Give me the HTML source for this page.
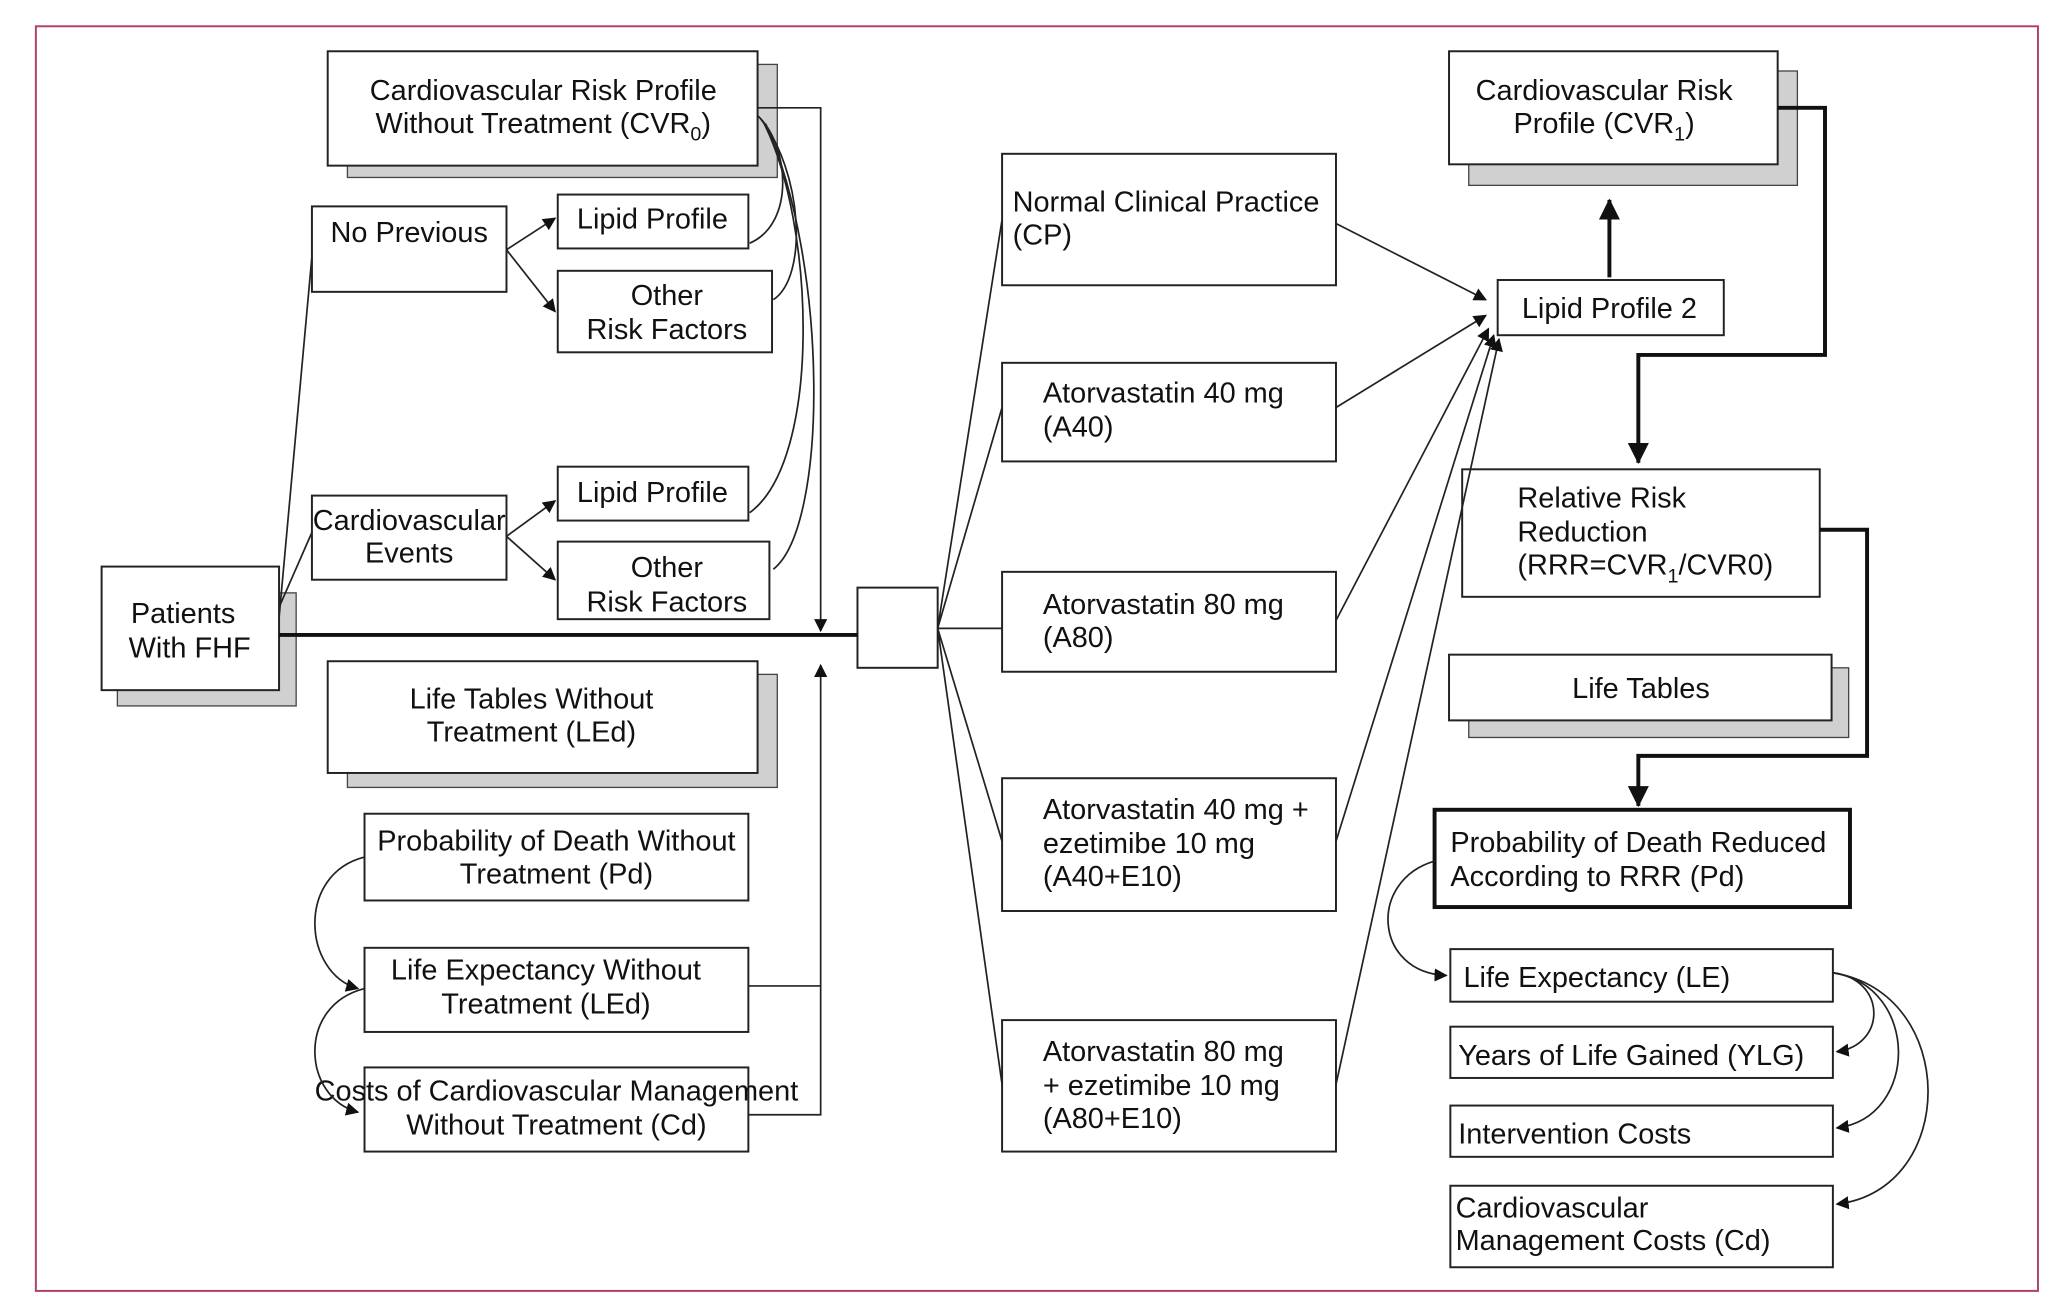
<!DOCTYPE html>
<html><head><meta charset="utf-8"><style>
html,body{margin:0;padding:0;background:#fff}
svg{display:block}
text{font-family:"Liberation Sans Narrow","Liberation Sans",sans-serif;font-size:22px;fill:#111}
.b{fill:#fff;stroke:#222;stroke-width:1.5}
.s{fill:#d0d0d0;stroke:#444;stroke-width:1}
.l{stroke:#222;stroke-width:1.3;fill:none}
.t{stroke:#111;stroke-width:3;fill:none}
</style></head><body>
<svg width="2062" height="1308" viewBox="0 0 1568 995" xmlns="http://www.w3.org/2000/svg">
<defs>
<marker id="a" markerWidth="10" markerHeight="10" refX="9" refY="5" orient="auto" markerUnits="userSpaceOnUse"><path d="M0,0 L10,5 L0,10 z" fill="#111"/></marker>
<marker id="A" markerWidth="16" markerHeight="16" refX="15" refY="8" orient="auto" markerUnits="userSpaceOnUse"><path d="M0,0 L16,8 L0,16 z" fill="#111"/></marker>
</defs>
<rect x="27" y="20" width="1523" height="962" fill="none" stroke="#b0406a" stroke-width="1.5"/>

<rect class="s" x="264" y="49" width="327" height="86"/>
<rect class="s" x="89" y="451" width="136" height="86"/>
<rect class="s" x="264" y="513" width="327" height="86"/>
<rect class="s" x="1117" y="54" width="250" height="87"/>
<rect class="s" x="1117" y="508" width="289" height="53"/>

<rect class="b" x="249" y="39" width="327" height="87"/>
<text x="413" y="76" text-anchor="middle">Cardiovascular Risk Profile</text>
<text x="413" y="101" text-anchor="middle">Without Treatment (CVR<tspan font-size="15" dy="6">0</tspan><tspan dy="-6">)</tspan></text>
<rect class="b" x="237" y="157" width="148" height="65"/><text x="311" y="184" text-anchor="middle">No Previous</text>
<rect class="b" x="424" y="148" width="145" height="41"/><text x="496" y="174" text-anchor="middle">Lipid Profile</text>
<rect class="b" x="424" y="206" width="163" height="62"/><text x="507" y="232" text-anchor="middle">Other</text><text x="507" y="258" text-anchor="middle">Risk Factors</text>
<rect class="b" x="237" y="377" width="148" height="64"/><text x="311" y="403" text-anchor="middle">Cardiovascular</text><text x="311" y="428" text-anchor="middle">Events</text>
<rect class="b" x="424" y="355" width="145" height="41"/><text x="496" y="382" text-anchor="middle">Lipid Profile</text>
<rect class="b" x="424" y="412" width="161" height="59"/><text x="507" y="439" text-anchor="middle">Other</text><text x="507" y="465" text-anchor="middle">Risk Factors</text>
<rect class="b" x="77" y="431" width="135" height="94"/><text x="139" y="474" text-anchor="middle">Patients</text><text x="144" y="500" text-anchor="middle">With FHF</text>
<rect class="b" x="249" y="503" width="327" height="85"/><text x="404" y="539" text-anchor="middle">Life Tables Without</text><text x="404" y="564" text-anchor="middle">Treatment (LEd)</text>
<rect class="b" x="277" y="619" width="292" height="66"/><text x="423" y="647" text-anchor="middle">Probability of Death Without</text><text x="423" y="672" text-anchor="middle">Treatment (Pd)</text>
<rect class="b" x="277" y="721" width="292" height="64"/><text x="415" y="745" text-anchor="middle">Life Expectancy Without</text><text x="415" y="771" text-anchor="middle">Treatment (LEd)</text>
<rect class="b" x="277" y="812" width="292" height="64"/><text x="423" y="837" text-anchor="middle">Costs of Cardiovascular Management</text><text x="423" y="863" text-anchor="middle">Without Treatment (Cd)</text>
<rect class="b" x="652" y="447" width="61" height="61"/>
<rect class="b" x="762" y="117" width="254" height="100"/><text x="770" y="161">Normal Clinical Practice</text><text x="770" y="186">(CP)</text>
<rect class="b" x="762" y="276" width="254" height="75"/><text x="793" y="306">Atorvastatin 40 mg</text><text x="793" y="332">(A40)</text>
<rect class="b" x="762" y="435" width="254" height="76"/><text x="793" y="467">Atorvastatin 80 mg</text><text x="793" y="492">(A80)</text>
<rect class="b" x="762" y="592" width="254" height="101"/><text x="793" y="623">Atorvastatin 40 mg +</text><text x="793" y="649">ezetimibe 10 mg</text><text x="793" y="674">(A40+E10)</text>
<rect class="b" x="762" y="776" width="254" height="100"/><text x="793" y="807">Atorvastatin 80 mg</text><text x="793" y="833"> +  ezetimibe 10 mg</text><text x="793" y="858">(A80+E10)</text>
<rect class="b" x="1102" y="39" width="250" height="86"/><text x="1220" y="76" text-anchor="middle">Cardiovascular Risk</text><text x="1220" y="101" text-anchor="middle">Profile (CVR<tspan font-size="15" dy="6">1</tspan><tspan dy="-6">)</tspan></text>
<rect class="b" x="1139" y="213" width="172" height="42"/><text x="1224" y="242" text-anchor="middle">Lipid Profile 2</text>
<rect class="b" x="1112" y="357" width="272" height="97"/><text x="1154" y="386">Relative Risk</text><text x="1154" y="412">Reduction</text><text x="1154" y="437">(RRR=CVR<tspan font-size="15" dy="6">1</tspan><tspan dy="-6">/CVR0)</tspan></text>
<rect class="b" x="1102" y="498" width="291" height="50"/><text x="1248" y="531" text-anchor="middle">Life Tables</text>
<rect x="1091" y="616" width="316" height="74" fill="#fff" stroke="#111" stroke-width="3"/><text x="1103" y="648">Probability of Death Reduced</text><text x="1103" y="674">According to RRR (Pd)</text>
<rect class="b" x="1103" y="722" width="291" height="40"/><text x="1113" y="751">Life Expectancy (LE)</text>
<rect class="b" x="1103" y="781" width="291" height="39"/><text x="1109" y="810">Years of Life Gained (YLG)</text>
<rect class="b" x="1103" y="841" width="291" height="39"/><text x="1109" y="870">Intervention Costs</text>
<rect class="b" x="1103" y="902" width="291" height="62"/><text x="1107" y="926">Cardiovascular</text><text x="1107" y="951">Management Costs (Cd)</text>

<path class="l" d="M212,470 L237,195"/>
<path class="l" d="M212,462 L237,405"/>
<path class="l" d="M385,190 L422,166" marker-end="url(#a)"/>
<path class="l" d="M385,190 L422,237" marker-end="url(#a)"/>
<path class="l" d="M385,408 L422,381" marker-end="url(#a)"/>
<path class="l" d="M385,408 L422,441" marker-end="url(#a)"/>
<path class="t" d="M212,483 L652,483"/>
<path class="l" d="M576,82 L624,82 L624,480" marker-end="url(#a)"/>
<path class="l" d="M569,848 L624,848 L624,506" marker-end="url(#a)"/>
<path class="l" d="M569,750 L624,750"/>
<path class="l" d="M576,88 C600,110 605,170 570,185"/>
<path class="l" d="M578,90 C610,130 615,210 588,228"/>
<path class="l" d="M580,92 C620,170 625,350 570,390"/>
<path class="l" d="M582,94 C630,200 630,400 588,433"/>
<path class="l" d="M277,652 C225,665 230,740 272,752" marker-end="url(#a)"/>
<path class="l" d="M277,752 C225,765 230,835 272,846" marker-end="url(#a)"/>

<path class="l" d="M713,478 L762,167 M713,478 L762,310 M713,478 L762,478 M713,478 L762,640 M713,478 L762,825"/>
<path class="l" d="M1016,170 L1130,228" marker-end="url(#a)"/>
<path class="l" d="M1016,310 L1130,240" marker-end="url(#a)"/>
<path class="l" d="M1016,472 L1132,250" marker-end="url(#a)"/>
<path class="l" d="M1016,640 L1136,255" marker-end="url(#a)"/>
<path class="l" d="M1016,825 L1140,258" marker-end="url(#a)"/>

<path class="t" d="M1224,211 L1224,152" marker-end="url(#A)"/>
<path class="t" d="M1352,82 L1388,82 L1388,270 L1246,270 L1246,352" marker-end="url(#A)"/>
<path class="t" d="M1384,403 L1420,403 L1420,575 L1246,575 L1246,613" marker-end="url(#A)"/>
<path class="l" d="M1091,655 C1040,670 1045,740 1100,742" marker-end="url(#a)"/>
<path class="l" d="M1394,740 C1435,745 1435,795 1397,800" marker-end="url(#a)"/>
<path class="l" d="M1394,740 C1460,750 1460,850 1397,858" marker-end="url(#a)"/>
<path class="l" d="M1394,740 C1490,755 1490,905 1397,916" marker-end="url(#a)"/>
</svg>
</body></html>
